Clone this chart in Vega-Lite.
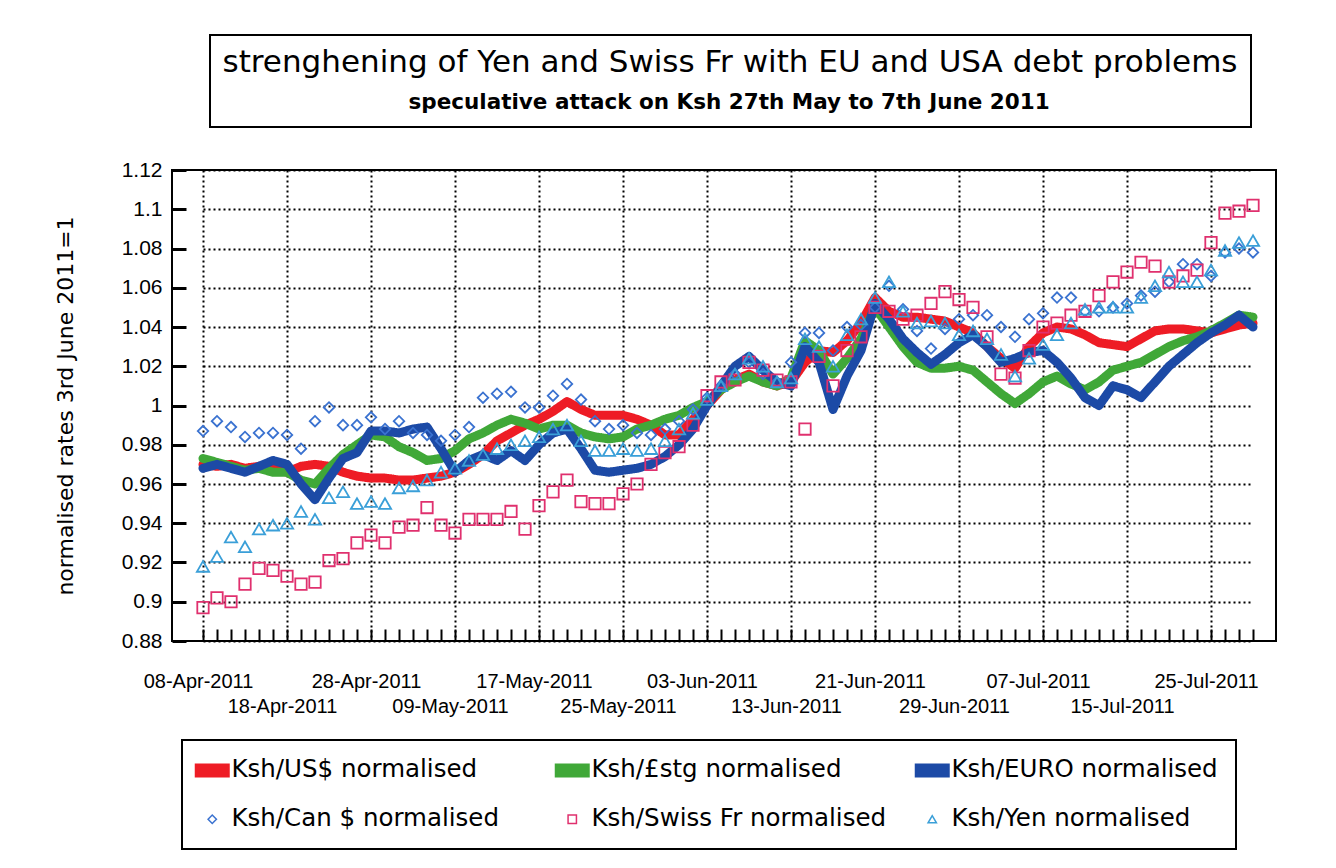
{
  "$schema": "https://vega.github.io/schema/vega-lite/v6.json",
  "autosize": "none",
  "width": 1104,
  "height": 471,
  "padding": {"left": 172, "top": 170, "right": 60, "bottom": 227},
  "background": "white",
  "data": {"values": [
    {"d":"08-Apr-2011","usd":0.970,"gbp":0.973,"eur":0.968,"cad":0.987,"chf":0.897,"jpy":0.918},
    {"d":"11-Apr-2011","usd":0.969,"gbp":0.971,"eur":0.970,"cad":0.992,"chf":0.902,"jpy":0.923},
    {"d":"12-Apr-2011","usd":0.970,"gbp":0.969,"eur":0.968,"cad":0.989,"chf":0.900,"jpy":0.933},
    {"d":"13-Apr-2011","usd":0.968,"gbp":0.967,"eur":0.966,"cad":0.984,"chf":0.909,"jpy":0.928},
    {"d":"14-Apr-2011","usd":0.969,"gbp":0.968,"eur":0.969,"cad":0.986,"chf":0.917,"jpy":0.937},
    {"d":"15-Apr-2011","usd":0.968,"gbp":0.966,"eur":0.972,"cad":0.986,"chf":0.916,"jpy":0.939},
    {"d":"18-Apr-2011","usd":0.966,"gbp":0.966,"eur":0.970,"cad":0.985,"chf":0.913,"jpy":0.940},
    {"d":"19-Apr-2011","usd":0.969,"gbp":0.962,"eur":0.960,"cad":0.978,"chf":0.909,"jpy":0.946},
    {"d":"20-Apr-2011","usd":0.970,"gbp":0.960,"eur":0.952,"cad":0.992,"chf":0.910,"jpy":0.942},
    {"d":"21-Apr-2011","usd":0.969,"gbp":0.968,"eur":0.963,"cad":0.999,"chf":0.921,"jpy":0.953},
    {"d":"26-Apr-2011","usd":0.966,"gbp":0.975,"eur":0.973,"cad":0.990,"chf":0.922,"jpy":0.956},
    {"d":"27-Apr-2011","usd":0.964,"gbp":0.980,"eur":0.976,"cad":0.990,"chf":0.930,"jpy":0.950},
    {"d":"28-Apr-2011","usd":0.963,"gbp":0.985,"eur":0.987,"cad":0.994,"chf":0.934,"jpy":0.951},
    {"d":"29-Apr-2011","usd":0.963,"gbp":0.984,"eur":0.987,"cad":0.988,"chf":0.930,"jpy":0.950},
    {"d":"03-May-2011","usd":0.962,"gbp":0.979,"eur":0.986,"cad":0.992,"chf":0.938,"jpy":0.958},
    {"d":"04-May-2011","usd":0.962,"gbp":0.976,"eur":0.988,"cad":0.986,"chf":0.939,"jpy":0.959},
    {"d":"05-May-2011","usd":0.963,"gbp":0.972,"eur":0.989,"cad":0.985,"chf":0.948,"jpy":0.962},
    {"d":"06-May-2011","usd":0.964,"gbp":0.973,"eur":0.978,"cad":0.982,"chf":0.939,"jpy":0.966},
    {"d":"09-May-2011","usd":0.966,"gbp":0.977,"eur":0.966,"cad":0.985,"chf":0.935,"jpy":0.968},
    {"d":"10-May-2011","usd":0.970,"gbp":0.983,"eur":0.972,"cad":0.989,"chf":0.942,"jpy":0.972},
    {"d":"11-May-2011","usd":0.975,"gbp":0.986,"eur":0.975,"cad":1.004,"chf":0.942,"jpy":0.975},
    {"d":"12-May-2011","usd":0.982,"gbp":0.990,"eur":0.972,"cad":1.006,"chf":0.942,"jpy":0.978},
    {"d":"13-May-2011","usd":0.986,"gbp":0.993,"eur":0.977,"cad":1.007,"chf":0.946,"jpy":0.980},
    {"d":"16-May-2011","usd":0.990,"gbp":0.991,"eur":0.972,"cad":0.999,"chf":0.937,"jpy":0.982},
    {"d":"17-May-2011","usd":0.993,"gbp":0.988,"eur":0.980,"cad":0.999,"chf":0.949,"jpy":0.984},
    {"d":"18-May-2011","usd":0.997,"gbp":0.990,"eur":0.986,"cad":1.005,"chf":0.956,"jpy":0.988},
    {"d":"19-May-2011","usd":1.002,"gbp":0.990,"eur":0.988,"cad":1.011,"chf":0.962,"jpy":0.990},
    {"d":"20-May-2011","usd":0.998,"gbp":0.986,"eur":0.978,"cad":1.003,"chf":0.951,"jpy":0.982},
    {"d":"23-May-2011","usd":0.995,"gbp":0.984,"eur":0.967,"cad":0.992,"chf":0.950,"jpy":0.977},
    {"d":"24-May-2011","usd":0.995,"gbp":0.983,"eur":0.966,"cad":0.988,"chf":0.950,"jpy":0.977},
    {"d":"25-May-2011","usd":0.995,"gbp":0.984,"eur":0.967,"cad":0.990,"chf":0.955,"jpy":0.978},
    {"d":"26-May-2011","usd":0.993,"gbp":0.988,"eur":0.968,"cad":0.986,"chf":0.960,"jpy":0.977},
    {"d":"27-May-2011","usd":0.990,"gbp":0.990,"eur":0.970,"cad":0.985,"chf":0.970,"jpy":0.978},
    {"d":"30-May-2011","usd":0.985,"gbp":0.993,"eur":0.974,"cad":0.988,"chf":0.976,"jpy":0.982},
    {"d":"31-May-2011","usd":0.985,"gbp":0.995,"eur":0.980,"cad":0.992,"chf":0.979,"jpy":0.988},
    {"d":"02-Jun-2011","usd":0.993,"gbp":0.999,"eur":0.988,"cad":0.998,"chf":0.990,"jpy":0.996},
    {"d":"03-Jun-2011","usd":1.000,"gbp":1.002,"eur":1.000,"cad":1.004,"chf":1.005,"jpy":1.003},
    {"d":"06-Jun-2011","usd":1.008,"gbp":1.008,"eur":1.010,"cad":1.010,"chf":1.012,"jpy":1.010},
    {"d":"07-Jun-2011","usd":1.013,"gbp":1.012,"eur":1.020,"cad":1.016,"chf":1.013,"jpy":1.016},
    {"d":"08-Jun-2011","usd":1.016,"gbp":1.015,"eur":1.025,"cad":1.022,"chf":1.022,"jpy":1.024},
    {"d":"09-Jun-2011","usd":1.012,"gbp":1.012,"eur":1.018,"cad":1.016,"chf":1.018,"jpy":1.020},
    {"d":"10-Jun-2011","usd":1.010,"gbp":1.010,"eur":1.012,"cad":1.012,"chf":1.013,"jpy":1.012},
    {"d":"13-Jun-2011","usd":1.012,"gbp":1.014,"eur":1.010,"cad":1.022,"chf":1.012,"jpy":1.014},
    {"d":"14-Jun-2011","usd":1.022,"gbp":1.033,"eur":1.030,"cad":1.037,"chf":0.988,"jpy":1.034},
    {"d":"15-Jun-2011","usd":1.028,"gbp":1.028,"eur":1.022,"cad":1.037,"chf":1.025,"jpy":1.030},
    {"d":"16-Jun-2011","usd":1.027,"gbp":1.016,"eur":0.998,"cad":1.028,"chf":1.010,"jpy":1.020},
    {"d":"17-Jun-2011","usd":1.033,"gbp":1.024,"eur":1.015,"cad":1.040,"chf":1.028,"jpy":1.036},
    {"d":"20-Jun-2011","usd":1.042,"gbp":1.034,"eur":1.028,"cad":1.041,"chf":1.035,"jpy":1.044},
    {"d":"21-Jun-2011","usd":1.055,"gbp":1.050,"eur":1.052,"cad":1.050,"chf":1.050,"jpy":1.055},
    {"d":"22-Jun-2011","usd":1.048,"gbp":1.040,"eur":1.044,"cad":1.061,"chf":1.048,"jpy":1.063},
    {"d":"23-Jun-2011","usd":1.045,"gbp":1.030,"eur":1.034,"cad":1.049,"chf":1.044,"jpy":1.048},
    {"d":"24-Jun-2011","usd":1.045,"gbp":1.022,"eur":1.027,"cad":1.038,"chf":1.046,"jpy":1.042},
    {"d":"27-Jun-2011","usd":1.044,"gbp":1.019,"eur":1.021,"cad":1.029,"chf":1.052,"jpy":1.043},
    {"d":"28-Jun-2011","usd":1.043,"gbp":1.019,"eur":1.026,"cad":1.039,"chf":1.058,"jpy":1.042},
    {"d":"29-Jun-2011","usd":1.040,"gbp":1.020,"eur":1.032,"cad":1.044,"chf":1.054,"jpy":1.036},
    {"d":"30-Jun-2011","usd":1.037,"gbp":1.018,"eur":1.036,"cad":1.046,"chf":1.050,"jpy":1.038},
    {"d":"01-Jul-2011","usd":1.030,"gbp":1.012,"eur":1.030,"cad":1.046,"chf":1.035,"jpy":1.034},
    {"d":"04-Jul-2011","usd":1.024,"gbp":1.006,"eur":1.022,"cad":1.040,"chf":1.016,"jpy":1.026},
    {"d":"05-Jul-2011","usd":1.019,"gbp":1.001,"eur":1.024,"cad":1.035,"chf":1.014,"jpy":1.015},
    {"d":"06-Jul-2011","usd":1.030,"gbp":1.006,"eur":1.027,"cad":1.044,"chf":1.028,"jpy":1.024},
    {"d":"07-Jul-2011","usd":1.037,"gbp":1.012,"eur":1.028,"cad":1.047,"chf":1.040,"jpy":1.031},
    {"d":"08-Jul-2011","usd":1.040,"gbp":1.015,"eur":1.022,"cad":1.055,"chf":1.042,"jpy":1.036},
    {"d":"11-Jul-2011","usd":1.039,"gbp":1.011,"eur":1.014,"cad":1.055,"chf":1.046,"jpy":1.042},
    {"d":"12-Jul-2011","usd":1.036,"gbp":1.008,"eur":1.004,"cad":1.048,"chf":1.048,"jpy":1.049},
    {"d":"13-Jul-2011","usd":1.032,"gbp":1.012,"eur":1.000,"cad":1.048,"chf":1.056,"jpy":1.050},
    {"d":"14-Jul-2011","usd":1.031,"gbp":1.018,"eur":1.010,"cad":1.050,"chf":1.063,"jpy":1.050},
    {"d":"15-Jul-2011","usd":1.030,"gbp":1.020,"eur":1.008,"cad":1.052,"chf":1.068,"jpy":1.050},
    {"d":"18-Jul-2011","usd":1.034,"gbp":1.022,"eur":1.004,"cad":1.056,"chf":1.073,"jpy":1.055},
    {"d":"19-Jul-2011","usd":1.038,"gbp":1.026,"eur":1.012,"cad":1.058,"chf":1.071,"jpy":1.061},
    {"d":"20-Jul-2011","usd":1.039,"gbp":1.030,"eur":1.020,"cad":1.063,"chf":1.063,"jpy":1.068},
    {"d":"21-Jul-2011","usd":1.039,"gbp":1.033,"eur":1.026,"cad":1.072,"chf":1.066,"jpy":1.063},
    {"d":"22-Jul-2011","usd":1.038,"gbp":1.035,"eur":1.032,"cad":1.072,"chf":1.069,"jpy":1.063},
    {"d":"25-Jul-2011","usd":1.037,"gbp":1.038,"eur":1.037,"cad":1.066,"chf":1.083,"jpy":1.069},
    {"d":"26-Jul-2011","usd":1.039,"gbp":1.042,"eur":1.041,"cad":1.078,"chf":1.098,"jpy":1.079},
    {"d":"27-Jul-2011","usd":1.041,"gbp":1.046,"eur":1.046,"cad":1.080,"chf":1.099,"jpy":1.083},
    {"d":"28-Jul-2011","usd":1.042,"gbp":1.045,"eur":1.040,"cad":1.078,"chf":1.102,"jpy":1.084}
  ]},
  "transform": [{"fold": ["usd", "gbp", "eur", "cad", "chf", "jpy"], "as": ["key", "value"]}],
  "encoding": {
    "x": {
      "field": "d", "type": "ordinal", "sort": null,
      "scale": {"type": "point", "padding": 0, "range": [31, 1081]},
      "axis": {
        "title": null, "labelAngle": 0, "labelOverlap": false, "labelBound": false,
        "labelExpr": "indexof(['08-Apr-2011','28-Apr-2011','17-May-2011','03-Jun-2011','21-Jun-2011','07-Jul-2011','25-Jul-2011'], datum.value) >= 0 ? datum.value : (indexof(['18-Apr-2011','09-May-2011','25-May-2011','13-Jun-2011','29-Jun-2011','15-Jul-2011'], datum.value) >= 0 ? ['', datum.value] : '')",
        "labelFont": "Liberation Sans", "labelFontSize": 20, "labelColor": "black", "labelLineHeight": 25,
        "labelBaseline": "top", "labelPadding": 42, "labelOffset": -5,
        "domain": false, "ticks": true, "tickSize": -12, "tickWidth": 2, "tickColor": "black",
        "grid": true, "gridColor": "black", "gridDash": [2, 3], "gridWidth": 2,
        "gridOpacity": {"condition": {"test": "indexof(['08-Apr-2011','18-Apr-2011','28-Apr-2011','09-May-2011','17-May-2011','25-May-2011','03-Jun-2011','13-Jun-2011','21-Jun-2011','29-Jun-2011','07-Jul-2011','15-Jul-2011','25-Jul-2011'], datum.value) >= 0", "value": 1}, "value": 0}
      }
    },
    "y": {
      "field": "value", "type": "quantitative",
      "scale": {"domain": [0.88, 1.12], "nice": false, "zero": false},
      "axis": {
        "title": "normalised rates 3rd June 2011=1",
        "titleFont": "DejaVu Sans", "titleFontSize": 22, "titleFontWeight": "normal", "titleColor": "black", "titlePadding": 44,
        "values": [0.88, 0.9, 0.92, 0.94, 0.96, 0.98, 1, 1.02, 1.04, 1.06, 1.08, 1.1, 1.12],
        "format": ".3~g",
        "labelFont": "Liberation Sans", "labelFontSize": 21, "labelColor": "black", "labelPadding": 24,
        "domain": false, "tickSize": -14, "tickWidth": 3, "tickColor": "black",
        "grid": true, "gridColor": "black", "gridDash": [2, 3], "gridWidth": 2
      }
    },
    "color": {
      "field": "key", "type": "nominal",
      "scale": {
        "domain": ["usd", "gbp", "eur", "cad", "chf", "jpy"],
        "range": ["#ee1c25", "#40a838", "#1c4aa6", "#3a72d0", "#e0306e", "#3a9fd8"]
      },
      "legend": {
        "orient": "none", "legendX": 10, "legendY": 570,
        "columns": 3, "direction": "horizontal", "gridAlign": "all",
        "title": null,
        "labelExpr": "datum.value == 'usd' ? 'Ksh/US$ normalised' : datum.value == 'gbp' ? 'Ksh/£stg normalised' : datum.value == 'eur' ? 'Ksh/EURO normalised' : datum.value == 'cad' ? 'Ksh/Can $ normalised' : datum.value == 'chf' ? 'Ksh/Swiss Fr normalised' : 'Ksh/Yen normalised'",
        "labelFont": "DejaVu Sans", "labelFontSize": 24.5, "labelColor": "black", "labelLimit": 500,
        "labelOffset": 7, "columnPadding": 27, "rowPadding": 24, "padding": 18,
        "symbolSize": 1225, "strokeColor": "black", "fillColor": "white",
        "encode": {
          "legend": {"update": {"strokeWidth": {"value": 2}}},
          "symbols": {"update": {
            "shape": {"signal": "datum.value == 'usd' || datum.value == 'gbp' || datum.value == 'eur' ? 'M-1,-0.4H1V0.4H-1Z' : datum.value == 'cad' ? 'diamond' : datum.value == 'chf' ? 'square' : 'triangle-up'"},
            "size": {"signal": "datum.value == 'usd' || datum.value == 'gbp' || datum.value == 'eur' ? 1225 : 70"},
            "fill": {"signal": "datum.value == 'usd' ? '#ee1c25' : datum.value == 'gbp' ? '#40a838' : datum.value == 'eur' ? '#1c4aa6' : 'transparent'"},
            "stroke": {"signal": "datum.value == 'usd' ? '#ee1c25' : datum.value == 'gbp' ? '#40a838' : datum.value == 'eur' ? '#1c4aa6' : datum.value == 'cad' ? '#3a72d0' : datum.value == 'chf' ? '#e0306e' : '#3a9fd8'"},
            "strokeWidth": {"signal": "datum.value == 'usd' || datum.value == 'gbp' || datum.value == 'eur' ? 0 : 1.5"},
            "opacity": {"value": 1}
          }}
        }
      }
    }
  },
  "layer": [
    {
      "transform": [{"filter": "datum.key == 'usd' || datum.key == 'gbp' || datum.key == 'eur'"}],
      "mark": {"type": "line", "strokeWidth": 9, "strokeJoin": "round", "strokeCap": "round"},
      "encoding": {
        "strokeDash": {
          "datum": "speculative attack on Ksh 27th May to 7th June 2011",
          "type": "nominal",
          "scale": {"range": [[1, 0]]},
          "legend": {
            "orient": "none", "legendX": 38, "legendY": -135,
            "title": "strenghening of Yen and Swiss Fr with EU and USA debt problems",
            "titleFont": "DejaVu Sans", "titleFontSize": 31, "titleFontWeight": "normal", "titleColor": "black",
            "titleAnchor": "middle", "titleAlign": "center", "titlePadding": 13, "titleLimit": 2000,
            "labelFont": "DejaVu Sans", "labelFontSize": 21.5, "labelFontWeight": "bold", "labelColor": "black",
            "labelOffset": -24, "labelLimit": 2000,
            "symbolSize": 0, "symbolOpacity": 0, "symbolStrokeWidth": 0,
            "padding": 13, "strokeColor": "black", "fillColor": "white",
            "encode": {"legend": {"update": {"strokeWidth": {"value": 2}}}}
          }
        }
      }
    },
    {
      "transform": [{"filter": "datum.key == 'cad' || datum.key == 'chf' || datum.key == 'jpy'"}],
      "mark": {"type": "point", "filled": false, "strokeWidth": 1.8, "opacity": 1},
      "encoding": {
        "shape": {"field": "key", "type": "nominal", "scale": {"domain": ["cad", "chf", "jpy"], "range": ["diamond", "square", "triangle-up"]}, "legend": null},
        "size": {"field": "key", "type": "nominal", "scale": {"domain": ["cad", "chf", "jpy"], "range": [110, 150, 110]}, "legend": null}
      }
    }
  ],
  "config": {
    "view": {"stroke": "black", "strokeWidth": 2}
  }
}
